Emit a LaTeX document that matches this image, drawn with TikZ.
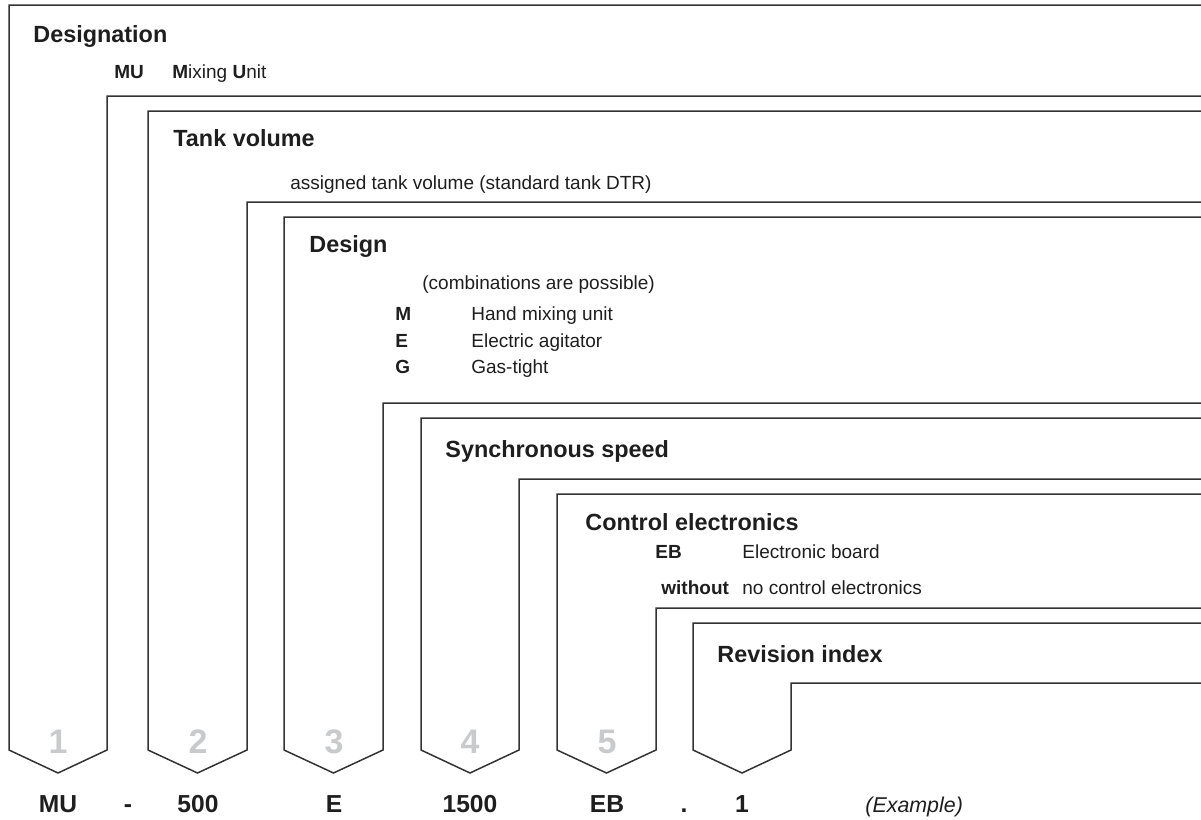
\documentclass[tikz,border=0pt]{standalone}
\usepackage{fontspec}
\setmainfont{Liberation Sans}
\usetikzlibrary{positioning}

\definecolor{framegray}{HTML}{333333}
\definecolor{digitgray}{HTML}{C8CACC}
\definecolor{inkblack}{HTML}{1E1E1E}

\begin{document}
\begin{tikzpicture}[x=0.5pt,y=-0.5pt,
                    frame/.style={draw=framegray,line width=0.75pt,line join=miter},
                    title/.style={anchor=base west,inner sep=0pt,text=inkblack,
                                  font=\fontsize{11.7}{14}\selectfont\bfseries},
                    code/.style={anchor=base west,inner sep=0pt,text=inkblack,
                                 font=\fontsize{9.5}{11}\selectfont\bfseries},
                    desc/.style={anchor=base west,inner sep=0pt,text=inkblack,
                                 font=\fontsize{9.5}{11}\selectfont},
                    digit/.style={anchor=base,inner sep=0pt,text=digitgray,
                                  font=\fontsize{17}{20}\selectfont\bfseries},
                    result/.style={anchor=base,inner sep=0pt,text=inkblack,
                                   font=\fontsize{12.3}{15}\selectfont\bfseries}]
  \useasboundingbox (0,0) rectangle (1201,820);

  % tabs: left/right/top/inner top
  \foreach \l/\r/\t/\u in {9/107/5/96, 148/247/111/202, 284/383/217/403,
                           421/519/418/479, 557/656/494/608, 693/791/623/683}
    \draw[frame] (1201,\t) -- (\l,\t) -- (\l,750) -- ({(\l+\r)/2},773)
                 -- (\r,750) -- (\r,\u) -- (1201,\u);

  % numbers in the tabs
  \foreach \x [count=\i] in {58,198,334,470,607}
    \node[digit] (d\i) at (\x,753) {\i};

  \node[title] (desig)  at (33,42)   {Designation};
  \node[code]  (mu)     at (114,78)  {MU};
  \node[desc]  (mutxt)  at (172,78)  {\textbf{M}ixing \textbf{U}nit};

  \node[title] (tank)   at (173,146) {Tank volume};
  \node[desc]  (tanktxt) at (290,189) {assigned tank volume (standard tank DTR)};

  \node[title] (design) at (309,252) {Design};
  \node[desc]  (comb)   at (422,289) {(combinations are possible)};
  \node[code]  (m)      at (395,320) {M};
  \node[desc]  (mtxt)   at (471,320) {Hand mixing unit};
  \node[code]  (e)      at (395,347) {E};
  \node[desc]  (etxt)   at (471,347) {Electric agitator};
  \node[code]  (g)      at (395,373) {G};
  \node[desc]  (gtxt)   at (471,373) {Gas-tight};

  \node[title] (sync)   at (445,457) {Synchronous speed};

  \node[title] (ctrl)   at (585,530) {Control electronics};
  \node[code]  (eb)     at (655,558) {EB};
  \node[desc]  (ebtxt)  at (742,558) {Electronic board};
  \node[code]  (wo)     at (661,594) {without};
  \node[desc]  (wotxt)  at (742,594) {no control electronics};

  \node[title] (rev)    at (717,662) {Revision index};

  % example code
  \node[result] (r1) at (58,812)  {MU};
  \node[result] (r0) at (128,812) {-};
  \node[result] (r2) at (198,812) {500};
  \node[result] (r3) at (334,812) {E};
  \node[result] (r4) at (470,812) {1500};
  \node[result] (r5) at (607,812) {EB};
  \node[result] (rd) at (684,812) {.};
  \node[result] (r6) at (742,812) {1};
  \node[desc,font=\fontsize{10.7}{13}\selectfont\itshape] (ex) at (865,812) {(Example)};
\end{tikzpicture}
\end{document}
